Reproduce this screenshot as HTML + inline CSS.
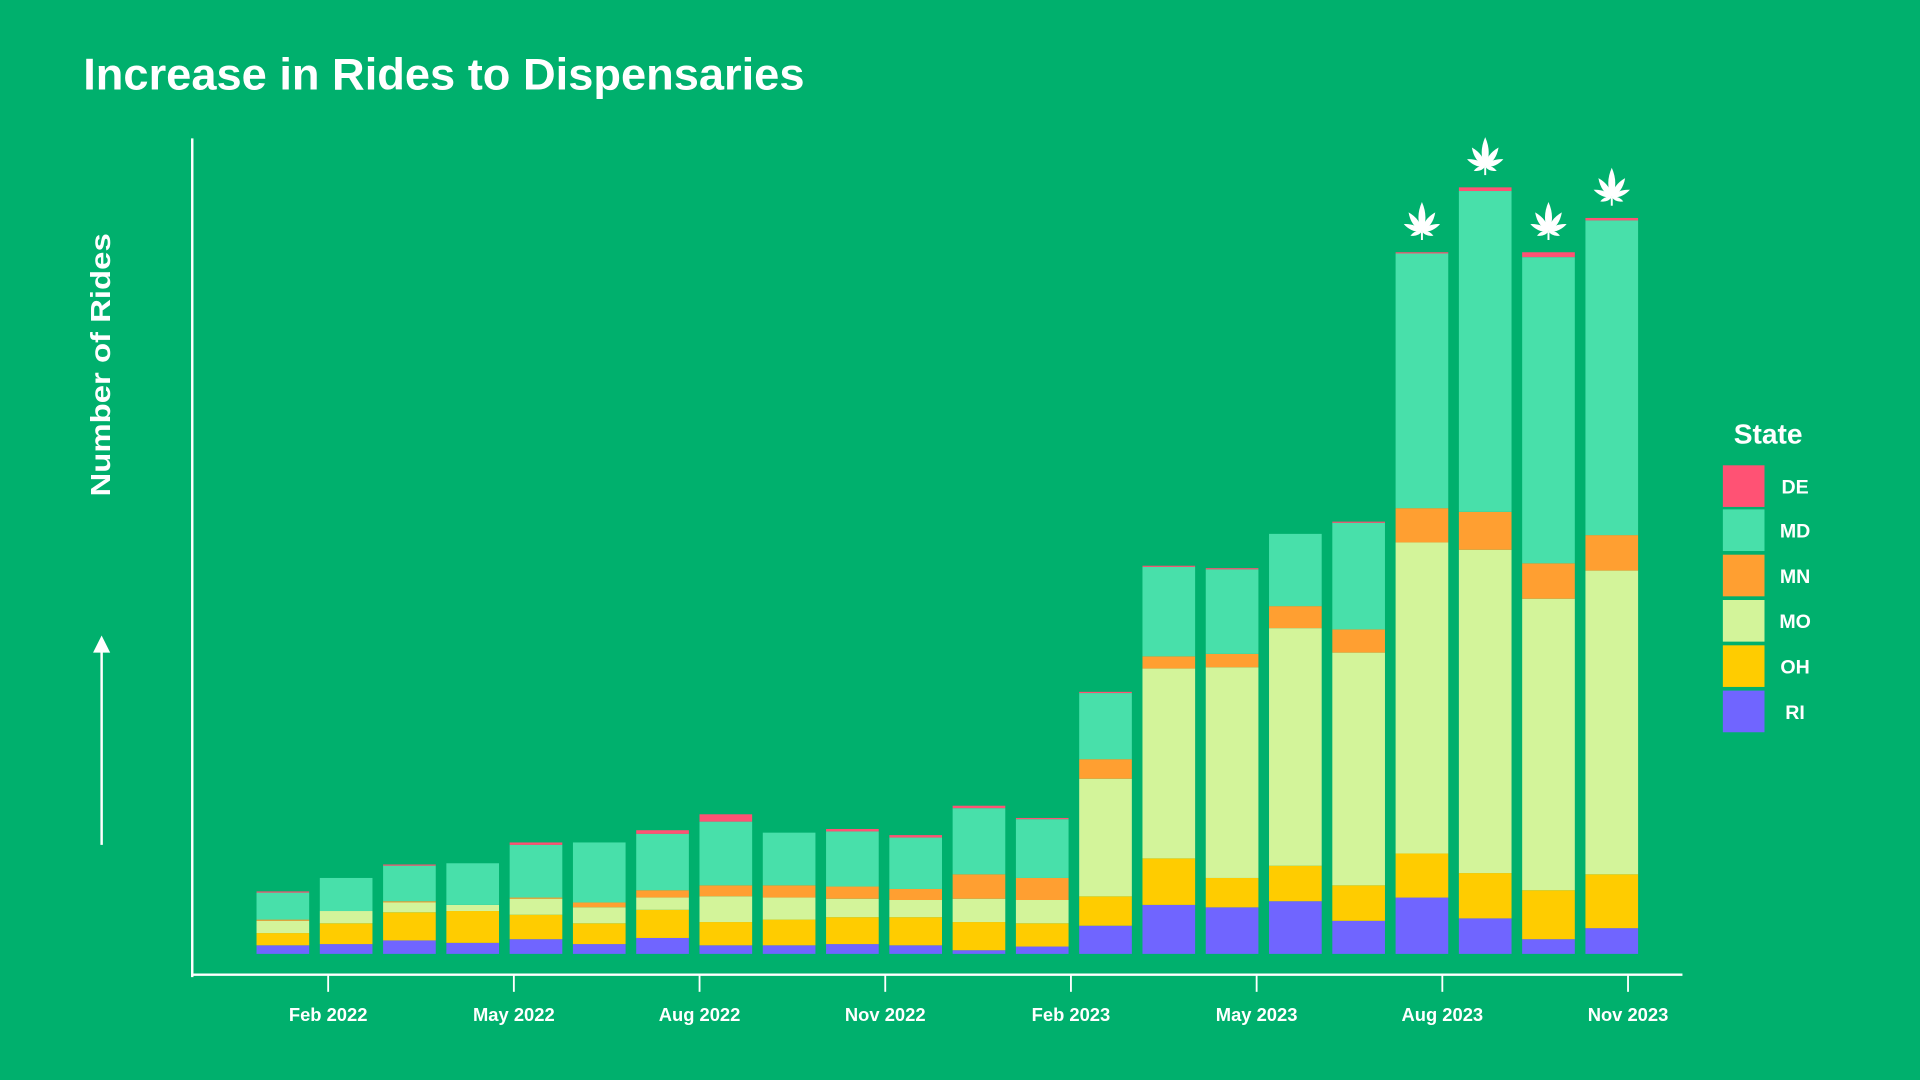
<!DOCTYPE html>
<html><head><meta charset="utf-8"><style>
html,body{margin:0;padding:0;background:#00B06D;width:1920px;height:1080px;overflow:hidden}
svg{display:block}
text{font-family:"Liberation Sans",sans-serif;fill:#fff}
</style></head><body>
<svg id="chart" width="1920" height="1080" viewBox="0 0 1568 882" preserveAspectRatio="none">
<rect width="1568" height="882" fill="#00B06D"/>
<text x="68" y="73" font-size="36" font-weight="bold" textLength="589" lengthAdjust="spacingAndGlyphs">Increase in Rides to Dispensaries</text>
<text transform="translate(90,298) rotate(-90)" text-anchor="middle" font-size="23" font-weight="bold" textLength="215" lengthAdjust="spacingAndGlyphs">Number of Rides</text>
<g>
<line x1="83" y1="690" x2="83" y2="530" stroke="#fff" stroke-width="2"/>
<polygon points="76,533 90,533 83,519" fill="#fff"/>
</g>
<line x1="157" y1="113" x2="157" y2="798" stroke="#fff" stroke-width="2"/>
<line x1="156" y1="796" x2="1374" y2="796" stroke="#fff" stroke-width="2"/>
<g id="bars"></g>
<g id="ticks"></g>
<g id="leaves"></g>
<g id="legend"></g>
</svg>
<script>
const months = ["Jan 2022","Feb 2022","Mar 2022","Apr 2022","May 2022","Jun 2022","Jul 2022","Aug 2022","Sep 2022","Oct 2022","Nov 2022","Dec 2022","Jan 2023","Feb 2023","Mar 2023","Apr 2023","May 2023","Jun 2023","Jul 2023","Aug 2023","Sep 2023","Oct 2023"];
const stateNames = ["RI","OH","MO","MN","MD","DE"];
const riValues = [7,8,11,9,12,8,13,7,7,8,7,3,6,23,40,38,43,27,46,29,12,21];
const ohValues = [10,17,23,26,20,17,23,19,21,22,23,23,19,24,38,24,29,29,36,37,40,44];
const moValues = [10,10,8,5,13,13,10,21,18,15,14,19,19,96,155,172,194,190,254,264,238,248];
const mnValues = [1,0,1,0,1,4,6,9,10,10,9,20,18,16,10,11,18,19,28,31,29,29];
const mdValues = [22,27,29,34,43,49,46,52,43,45,42,54,48,54,73,69,59,87,208,262,250,257];
const deValues = [1,0,1,0,2,0,3,6,0,2,2,2,1,1,1,1,0,1,1,3,4,2];
const tickLabels = ["Feb 2022","May 2022","Aug 2022","Nov 2022","Feb 2023","May 2023","Aug 2023","Nov 2023"];
const tickMonthIndex = [1,4,7,10,13,16,19,22];
const leafBars = [18,19,20,21];

const colors = {RI:"#7065FF",OH:"#FFCC00",MO:"#D3F49A",MN:"#FF9F31",MD:"#48E0AA",DE:"#FF5274"};
const series = {RI:riValues,OH:ohValues,MO:moValues,MN:mnValues,MD:mdValues,DE:deValues};
const NS="http://www.w3.org/2000/svg";
const baseY=779, firstX=231, step=51.68, barW=43;
function xScale(i){return firstX+i*step;}
function yScale(v){return baseY-v;}
function tickX(mi){return 268+(mi-1)*50.55;}

const bars=document.getElementById('bars');
const tops=[];
months.forEach((m,i)=>{
  let cum=0;
  const g=document.createElementNS(NS,'g');
  
  
  stateNames.forEach(s=>{
    const v=series[s][i];
    if(v<=0)return;
    const r=document.createElementNS(NS,'rect');
    r.setAttribute('x',xScale(i)-barW/2);
    r.setAttribute('y',yScale(cum+v));
    r.setAttribute('width',barW);
    r.setAttribute('height',v);
    r.setAttribute('fill',colors[s]);
    
    
    g.appendChild(r);
    cum+=v;
  });
  tops.push(cum);
  bars.appendChild(g);
});

const ticks=document.getElementById('ticks');
tickLabels.forEach((t,k)=>{
  const x=tickX(tickMonthIndex[k]);
  const l=document.createElementNS(NS,'line');
  l.setAttribute('x1',x);l.setAttribute('x2',x);l.setAttribute('y1',796);l.setAttribute('y2',810);
  l.setAttribute('stroke','#fff');l.setAttribute('stroke-width','1.5');
  
  
  ticks.appendChild(l);
  const tx=document.createElementNS(NS,'text');
  tx.setAttribute('x',x);tx.setAttribute('y',834);tx.setAttribute('text-anchor','middle');
  tx.setAttribute('font-size','15');tx.setAttribute('font-weight','bold');
  tx.textContent=t;
  
  
  ticks.appendChild(tx);
});

const leaves=document.getElementById('leaves');
leafBars.forEach(i=>{
  const cx=xScale(i), cy=yScale(tops[i])-17;
  const g=document.createElementNS(NS,'g');
  
  
  g.setAttribute('transform','translate('+cx+','+cy+')');
  [[0,24,3.6],[-35,19,3.1],[35,19,3.1],[-68,16,2.6],[68,16,2.6],[-110,10,2],[110,10,2]].forEach(a=>{
    const p=document.createElementNS(NS,'path');
    const L=a[1], w=a[2];
    p.setAttribute('d','M0,0 Q'+(-w*1.6)+','+(-L*0.45)+' 0,'+(-L)+' Q'+(w*1.6)+','+(-L*0.45)+' 0,0Z');
    p.setAttribute('fill','#fff');
    p.setAttribute('transform','rotate('+a[0]+')');
    g.appendChild(p);
  });
  const st=document.createElementNS(NS,'rect');
  st.setAttribute('x',-0.8);st.setAttribute('y',0);st.setAttribute('width',1.6);st.setAttribute('height',7);st.setAttribute('fill','#fff');
  g.appendChild(st);
  leaves.appendChild(g);
});

const legend=document.getElementById('legend');
const lt=document.createElementNS(NS,'text');
lt.setAttribute('x',1444);lt.setAttribute('y',362);lt.setAttribute('text-anchor','middle');
lt.setAttribute('font-size','23');lt.setAttribute('font-weight','bold');lt.textContent='State';


legend.appendChild(lt);
const legendOrder=["DE","MD","MN","MO","OH","RI"];
const legendY=[380,416,453,490,527,564];
legendOrder.forEach((s,k)=>{
  const g=document.createElementNS(NS,'g');
  
  
  const r=document.createElementNS(NS,'rect');
  r.setAttribute('x',1407);r.setAttribute('y',legendY[k]);r.setAttribute('width',34);r.setAttribute('height',34);
  r.setAttribute('fill',colors[s]);
  g.appendChild(r);
  const t=document.createElementNS(NS,'text');
  t.setAttribute('x',1466);t.setAttribute('y',legendY[k]+23);t.setAttribute('text-anchor','middle');
  t.setAttribute('font-size','16');t.setAttribute('font-weight','bold');t.textContent=s;
  g.appendChild(t);
  legend.appendChild(g);
});
</script>
</body></html>
